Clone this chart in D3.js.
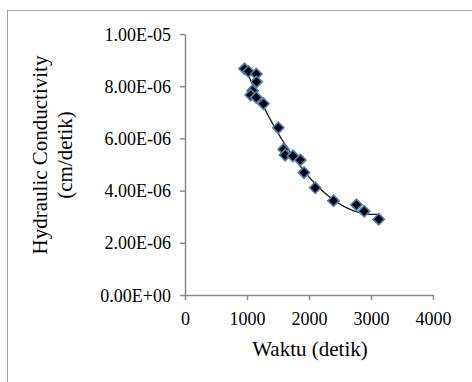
<!DOCTYPE html>
<html><head><meta charset="utf-8">
<script src="https://cdn.jsdelivr.net/npm/d3@7"></script>
<style>body{margin:0;background:#fff;}svg{display:block;}</style>
</head><body>
<script>
const waktu = [960, 1025, 1150, 1155, 1090, 1060, 1150, 1265, 1505, 1590, 1615, 1740, 1860, 1920, 2100, 2395, 2765, 2890, 3125];
const conductivity = [8.67e-6, 8.56e-6, 8.47e-6, 8.17e-6, 7.83e-6, 7.66e-6, 7.57e-6, 7.33e-6, 6.41e-6, 5.58e-6, 5.36e-6, 5.33e-6, 5.17e-6, 4.69e-6, 4.11e-6, 3.61e-6, 3.46e-6, 3.21e-6, 2.90e-6];
const xTicks = [0, 1000, 2000, 3000, 4000];
const yTicks = [0, 2e-6, 4e-6, 6e-6, 8e-6, 1e-5];
const yTickLabels = ["0.00E+00", "2.00E-06", "4.00E-06", "6.00E-06", "8.00E-06", "1.00E-05"];
const xTitle = "Waktu (detik)";
const yTitleLines = ["Hydraulic Conductivity", "(cm/detik)"];

const W = 472, H = 382;
const svg = d3.select("body").append("svg").attr("width", W).attr("height", H);
const font = "'Liberation Serif', 'Times New Roman', serif";

svg.append("rect").attr("x", 7.5).attr("y", 10.5).attr("width", 480).attr("height", 400)
  .attr("fill", "#fff").attr("stroke", "#a6a6a6").attr("stroke-width", 1);

const x = d3.scaleLinear().domain([0, 4000]).range([185, 433]);
const y = d3.scaleLinear().domain([0, 1e-5]).range([295, 34]);
const axisColor = "#8a8a8a";

const xAxis = svg.append("g").attr("transform", `translate(0,${y(0)})`)
  .call(d3.axisBottom(x).tickValues(xTicks).tickSize(5).tickSizeOuter(0).tickFormat(d3.format("d")));
xAxis.selectAll("text").attr("dy", null).attr("y", 30).attr("font-family", font).attr("font-size", 18).attr("fill", "#000");

const yAxis = svg.append("g").attr("transform", `translate(${x(0)},0)`)
  .call(d3.axisLeft(y).tickValues(yTicks).tickSize(5).tickSizeOuter(0).tickFormat((d, i) => yTickLabels[i]));
yAxis.selectAll("text").attr("x", -14).attr("dy", "0.34em").attr("font-family", font).attr("font-size", 18).attr("fill", "#000");

[xAxis, yAxis].forEach(g => {
  g.select(".domain").attr("stroke", axisColor).attr("stroke-width", 1.5);
  g.selectAll(".tick line").attr("stroke", axisColor).attr("stroke-width", 1.5);
});

// quadratic least-squares trendline derived from the data
function polyfit2(xs, ys) {
  const n = xs.length;
  let s = [0,0,0,0,0], t = [0,0,0];
  for (let i = 0; i < n; i++) {
    const xv = xs[i] / 1000, yv = ys[i] * 1e6;
    for (let k = 0; k < 5; k++) s[k] += Math.pow(xv, k);
    for (let k = 0; k < 3; k++) t[k] += yv * Math.pow(xv, k);
  }
  const A = [[s[0],s[1],s[2],t[0]],[s[1],s[2],s[3],t[1]],[s[2],s[3],s[4],t[2]]];
  for (let c = 0; c < 3; c++) {
    for (let r = c + 1; r < 3; r++) {
      const f = A[r][c] / A[c][c];
      for (let k = c; k < 4; k++) A[r][k] -= f * A[c][k];
    }
  }
  const b = [0,0,0];
  for (let r = 2; r >= 0; r--) {
    let v = A[r][3];
    for (let k = r + 1; k < 3; k++) v -= A[r][k] * b[k];
    b[r] = v / A[r][r];
  }
  return xv => (b[0] + b[1] * xv / 1000 + b[2] * Math.pow(xv / 1000, 2)) * 1e-6;
}
const fit = polyfit2(waktu, conductivity);
const xmin = d3.min(waktu), xmax = d3.max(waktu);
const trend = d3.range(0, 101).map(i => { const xv = xmin + (xmax - xmin) * i / 100; return [xv, fit(xv)]; });
svg.append("path").datum(trend)
  .attr("d", d3.line().x(d => x(d[0])).y(d => y(d[1])))
  .attr("fill", "none").attr("stroke", "#1a1a1a").attr("stroke-width", 1.3);

const sym = d3.symbol().type(d3.symbolSquare).size(64);
svg.append("g").selectAll("path").data(waktu.map((w, i) => [w, conductivity[i]])).join("path")
  .attr("d", sym)
  .attr("transform", d => `translate(${x(d[0])},${y(d[1])}) rotate(45)`)
  .attr("fill", "#000").attr("stroke", "#4a7ebb").attr("stroke-width", 1.6);

svg.append("text").attr("x", 310).attr("y", 356).attr("text-anchor", "middle")
  .attr("font-family", font).attr("font-size", 21).attr("fill", "#000").text(xTitle);

yTitleLines.forEach((t, i) => {
  svg.append("text").attr("transform", `translate(${40 + i * 25},155) rotate(-90)`)
    .attr("text-anchor", "middle").attr("dy", "0.35em")
    .attr("font-family", font).attr("font-size", 21).attr("fill", "#000").text(t);
});
</script>
</body></html>
